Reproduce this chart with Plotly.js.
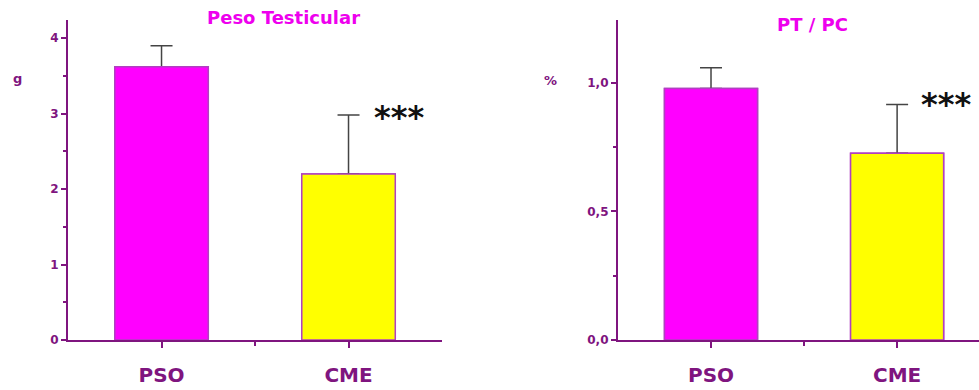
<!DOCTYPE html>
<html><head><meta charset="utf-8">
<script src="https://cdn.plot.ly/plotly-3.0.1.min.js"></script>
<style>body{margin:0;padding:0;background:#fff}#c{width:979px;height:390px}</style>
</head><body><div id="c"></div>
<script>
const categories = ["PSO", "CME"];
const pesoTesticular = [3.62, 2.20];
const pesoTesticularErr = [0.28, 0.78];
const ptPc = [0.978, 0.726];
const ptPcErr = [0.08, 0.19];
const titles = ["Peso Testicular", "PT / PC"];
const yUnits = ["g", "%"];
const significance = ["***", "***"];
const yTicksLeft = [0, 1, 2, 3, 4];
const yTicksRight = [0, 0.5, 1.0];

const purple = "#7f157f";
const barColors = ["#ff00ff", "#ffff00"];
const xPos = categories.map((_, i) => i);
const B = s => "<b>" + s + "</b>";

function barTraces(vals, errs, xa, ya) {
  const base = {
    type: "bar", x: xPos, y: vals, xaxis: xa, yaxis: ya, width: 0.5,
    marker: {color: barColors, line: {color: "#b040c0", width: 1.5}},
    showlegend: false, hoverinfo: "none"
  };
  const withErr = Object.assign({}, base, {
    error_y: {type: "data", array: errs, arrayminus: errs.map(() => 0), symmetric: false,
      color: "#444", thickness: 1.5, width: 11}
  });
  return [withErr, base];
}

const xCommon = {
  tickmode: "array", tickvals: xPos, ticktext: categories.map(B),
  showline: true, linecolor: purple, linewidth: 2,
  ticks: "outside", ticklen: 6, tickwidth: 2, tickcolor: purple, ticklabelstandoff: 10,
  tickfont: {family: "DejaVu Sans", size: 20, color: purple},
  showgrid: false, zeroline: false, automargin: false,
  minor: {tickvals: [0.5], ticks: "outside", ticklen: 4, tickwidth: 2, tickcolor: purple}
};
const yCommon = {
  showline: true, linecolor: purple, linewidth: 2,
  ticks: "outside", ticklen: 5, tickwidth: 2, tickcolor: purple,
  tickfont: {family: "DejaVu Sans", size: 12, color: purple},
  showgrid: false, zeroline: false, automargin: false
};

const layout = {
  width: 979, height: 390,
  margin: {l: 0, r: 0, t: 0, b: 0},
  paper_bgcolor: "#fff", plot_bgcolor: "#fff",
  separators: ",.",
  barmode: "overlay",
  showlegend: false,
  xaxis: Object.assign({}, xCommon, {domain: [0.0695, 0.4515], range: [-0.5, 1.5], anchor: "y"}),
  yaxis: Object.assign({}, yCommon, {domain: [0.1282, 0.9487], range: [0, 4.24], anchor: "x",
    tickmode: "array", tickvals: yTicksLeft, ticktext: yTicksLeft.map(v => B(String(v))),
    minor: {dtick: 0.5, tick0: 0, ticks: "outside", ticklen: 3, tickwidth: 2, tickcolor: purple}}),
  xaxis2: Object.assign({}, xCommon, {domain: [0.6312, 1.0], range: [-0.5, 1.44], anchor: "y2"}),
  yaxis2: Object.assign({}, yCommon, {domain: [0.1282, 0.9487], range: [0, 1.244], anchor: "x2",
    tickmode: "array", tickvals: yTicksRight, ticktext: yTicksRight.map(v => B(v.toFixed(1).replace(".", ","))),
    minor: {dtick: 0.25, tick0: 0, ticks: "outside", ticklen: 3, tickwidth: 2, tickcolor: purple}}),
  annotations: [
    {text: B(titles[0]), xref: "paper", yref: "paper", x: 283/979, y: (390-18)/390, showarrow: false,
      xanchor: "center", yanchor: "middle", font: {family: "DejaVu Sans", size: 18, color: "#ee00ee"}},
    {text: B(titles[1]), xref: "paper", yref: "paper", x: 812/979, y: (390-24)/390, showarrow: false,
      xanchor: "center", yanchor: "middle", font: {family: "DejaVu Sans", size: 18, color: "#ee00ee"}},
    {text: B(yUnits[0]), xref: "paper", yref: "paper", x: 17/979, y: (390-79)/390, showarrow: false,
      xanchor: "center", yanchor: "middle", font: {family: "DejaVu Sans", size: 13, color: purple}},
    {text: B(yUnits[1]), xref: "paper", yref: "paper", x: 550/979, y: (390-80)/390, showarrow: false,
      xanchor: "center", yanchor: "middle", font: {family: "DejaVu Sans", size: 13, color: purple}},
    {text: B(significance[0]), xref: "x", yref: "y", x: 1.27, y: pesoTesticular[1] + pesoTesticularErr[1] - 0.03,
      showarrow: false, xanchor: "center", font: {family: "DejaVu Sans", size: 32, color: "#111"}},
    {text: B(significance[1]), xref: "x2", yref: "y2", x: 1.26, y: ptPc[1] + ptPcErr[1] + 0.0,
      showarrow: false, xanchor: "center", font: {family: "DejaVu Sans", size: 32, color: "#111"}}
  ]
};

Plotly.newPlot("c", barTraces(pesoTesticular, pesoTesticularErr, "x", "y")
                     .concat(barTraces(ptPc, ptPcErr, "x2", "y2")), layout, {staticPlot: true, displayModeBar: false});
</script></body></html>
